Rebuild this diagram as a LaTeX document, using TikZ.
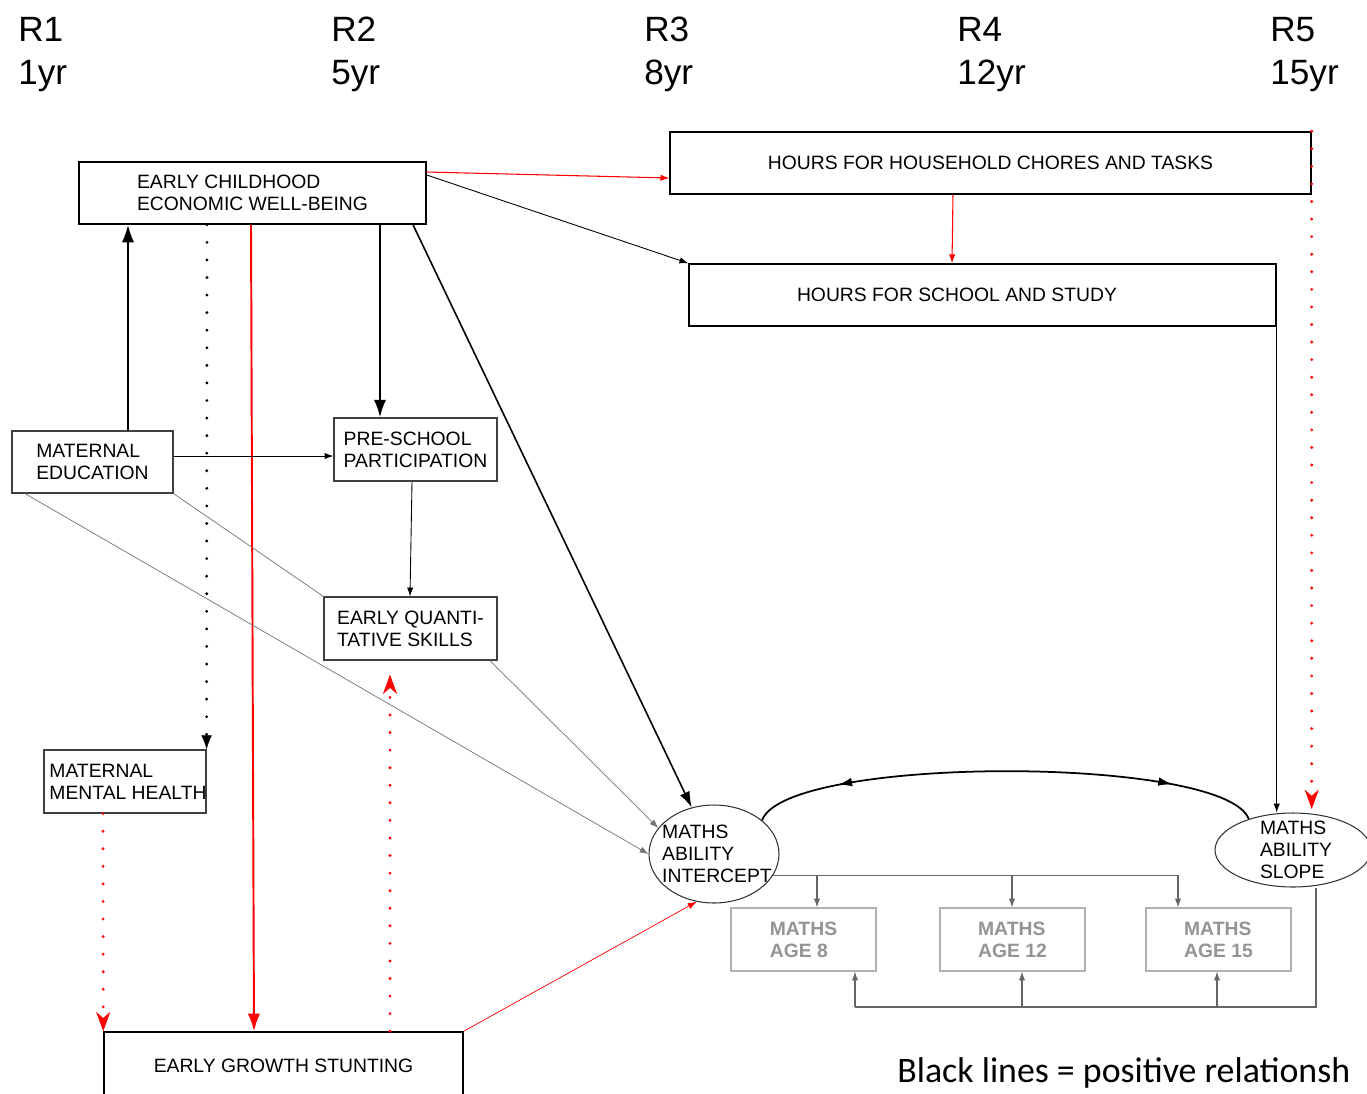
\documentclass[tikz,border=0pt]{standalone}
\usepackage{fontspec}
\setmainfont{Liberation Sans}
\newfontfamily\legendfamily{Carlito}
\usetikzlibrary{arrows.meta, shapes.geometric, decorations.markings}

\newcommand{\diagfont}{\fontsize{11}{12.5}\selectfont}
\newcommand{\roundfont}{\fontsize{20}{24}\selectfont}
\newcommand{\legendfont}{\legendfamily\fontsize{20.4}{24}\selectfont}

\tikzset{
	box/.style={draw, line width=0.9pt, inner sep=0pt, minimum height=1.24cm, font=\diagfont, align=left},
	softbox/.style={box, draw=black!75, line width=0.7pt},
	mathsbox/.style={draw=black!30, line width=0.7pt, inner sep=0pt, minimum width=2.9cm, minimum height=1.26cm, font=\diagfont\bfseries, text=black!42, align=left},
	latent/.style={ellipse, draw=black!80, line width=0.6pt, inner sep=0pt},
	latenttext/.style={font=\diagfont, align=left, inner sep=0pt},
	roundlabel/.style={font=\roundfont, anchor=base west, inner sep=0pt},
	smalltip/.style={-{Latex[length=5pt, width=3.6pt]}},
	posline/.style={smalltip, line width=0.5pt},
	posthick/.style={-{Latex[length=10pt, width=7pt]}, line width=1.2pt},
	negline/.style={smalltip, red, line width=0.6pt},
	negthick/.style={-{Latex[length=10pt, width=7pt]}, red, line width=1.1pt},
	dotline/.style={line width=1.8pt, line cap=round, dash pattern=on 0pt off 10pt},
	negdot/.style={red, dotline, -{Stealth[length=11pt, width=8pt, inset=3.5pt, line width=0.4pt]}},
	posdot/.style={black, dotline, -{Latex[length=8pt, width=6pt, line width=0.4pt]}},
	weak/.style={black!55, line width=0.4pt},
	bus/.style={black!60, line width=0.6pt}
}

\begin{document}
\begin{tikzpicture}[x=0.02cm, y=-0.02cm]
		\useasboundingbox[fill=white] (0, 0) rectangle (1367, 1093);
		\clip (0, 0) rectangle (1367, 1093);
		\foreach \n/\x/\age in {1/18/1, 2/331/5, 3/644/8, 4/957/12, 5/1270/15} {
			\node[roundlabel] (r\n) at (\x, 41) {R\n};
			\node[roundlabel] (age\n) at (\x, 84) {\age yr};
		}
		\path
		node[box, minimum width=6.94cm] (ecew) at (252.5, 193){EARLY CHILDHOOD\\ECONOMIC WELL-BEING}
		node[box, minimum width=12.82cm] (chores) at (990.5, 163){HOURS FOR HOUSEHOLD CHORES AND TASKS}
		node[box, minimum width=11.74cm] (school) at (982.5, 295){HOURS FOR SCHOOL AND STUDY\hspace*{1.02cm}}
		node[softbox, minimum width=3.22cm] (me) at (92.5, 462){MATERNAL\\EDUCATION}
		node[softbox, minimum width=3.26cm, minimum height=1.26cm] (pre) at (415.5, 449.5){PRE-SCHOOL\\PARTICIPATION}
		node[softbox, minimum width=3.46cm, minimum height=1.26cm] (eqs) at (410.5, 628.5){EARLY QUANTI-\\TATIVE SKILLS}
		node[softbox, minimum width=3.24cm, minimum height=1.26cm, label={[latenttext, xshift=0.06cm]center:MATERNAL\\MENTAL HEALTH}] (mmh) at (125, 781.5){}
		node[box, minimum width=7.18cm, minimum height=1.36cm] (stunt) at (283.5, 1066){EARLY GROWTH STUNTING}
		node[latent, minimum width=2.6cm, minimum height=1.96cm, label={[latenttext, xshift=0.06cm]center:MATHS\\ABILITY\\INTERCEPT}] (intercept) at (714, 854){}
		node[latent, minimum width=3.12cm, minimum height=1.48cm, label={[latenttext, xshift=0.06cm]center:MATHS\\ABILITY\\SLOPE}] (slope) at (1293, 850){}
		node[mathsbox] (m8) at (803.5, 939.5){MATHS\\AGE 8}
		node[mathsbox] (m12) at (1012.5, 939.5){MATHS\\AGE 12}
		node[mathsbox] (m15) at (1218.5, 939.5){MATHS\\AGE 15};
		\node[font=\legendfont, anchor=base west, inner sep=0pt] (legend) at (897, 1082) {Black lines = positive relationsh};
		\draw [negline] (ecew.east |- 0,172) -- (chores.west |- 0,178);
		\draw [posline] (ecew.east |- 0,175) -- (school.north west);
			\draw [negline] (953,0 |- chores.south) -- (952,0 |- school.north);
			\draw [posline] (school.south east) -- (school.south east |- slope.north);
			\draw [negdot, shorten >=2pt] (chores.north east) -- (chores.north east |- slope.north);
		\draw [posthick] (128,0 |- me.north) -- (128,0 |- ecew.south);
		\draw [posdot] (207,0 |- ecew.south) -- (mmh.north east);
		\draw [negthick] (251,0 |- ecew.south) -- (254,0 |- stunt.north);
		\draw [posthick, line width=1.3pt] (380,0 |- ecew.south) -- (380,0 |- pre.north);
		\draw [line width=0.9pt, -{Latex[length=9pt, width=6pt]}] (413,0 |- ecew.south) -- (intercept);
		\draw [posline] (me.east |- 0,456) -- (pre.west |- 0,456);
			\draw [posline] (412,0 |- pre.south) -- (410,0 |- eqs.north);
		\draw [weak] (me.south east) -- (eqs.north west);
		\draw [weak, smalltip] (25,0 |- me.south) -- (intercept.west);
		\draw [weak, smalltip] (490,0 |- eqs.south) -- (intercept.155);
		\draw [negdot, shorten >=8pt] (390,0 |- stunt.north) -- (390,0 |- eqs.south);
		\draw [negline, line width=0.4pt] (stunt.north east) -- (intercept.250);
		\draw [negdot] (103,0 |- mmh.south) -- (stunt.north west);
		\draw [line width=1pt, postaction={decorate}, decoration={markings,
			mark=at position 0.17 with {\arrowreversed{Latex[length=8pt, width=5pt]}},
			mark=at position 0.83 with {\arrow{Latex[length=8pt, width=5pt]}}}]
			(intercept.35) .. controls (785, 755) and (1225, 755) .. (slope.145);
		\draw [bus] (intercept.-20) -- (1178,0 |- intercept.-20) coordinate (busend);
		\foreach \x/\m in {817/m8, 1012/m12, 1178/m15}
			\draw [bus, smalltip] (\x,0 |- busend) -- (\x,0 |- \m.north);
		\draw [bus] (slope.south -| 1316,0) |- (855, 1007) coordinate (busstart);
		\foreach \x/\m in {855/m8, 1022/m12, 1217/m15}
			\draw [bus, smalltip] (\x, 1007) -- (\x,0 |- \m.south);
\end{tikzpicture}
\end{document}
